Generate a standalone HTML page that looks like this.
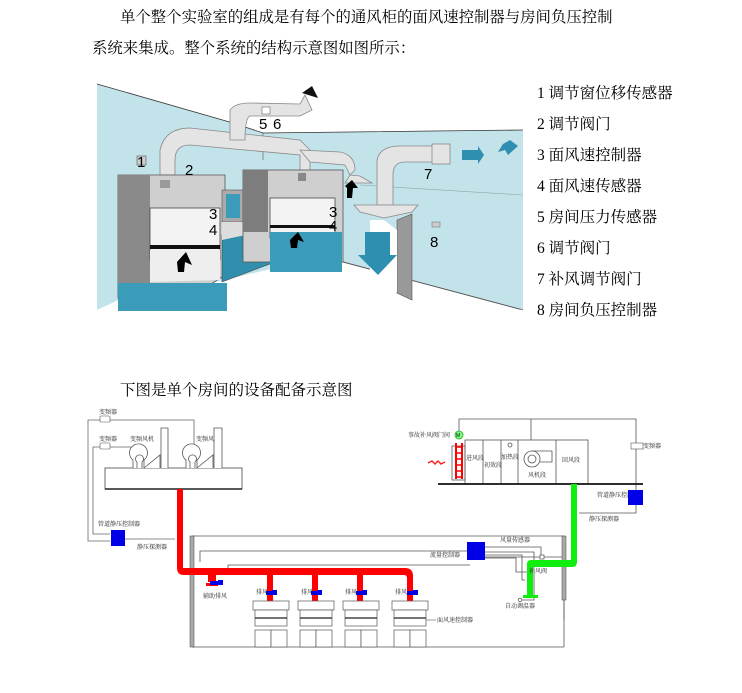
<!DOCTYPE html>
<html><head><meta charset="utf-8"><style>
html,body{margin:0;padding:0;background:#fff;width:742px;height:693px;overflow:hidden}
svg{display:block}
.t{font-family:"Liberation Serif","Noto Serif CJK SC",serif;fill:#000}
.s{font-family:"Liberation Serif","Noto Serif CJK SC",serif;fill:#222;font-size:6px}
.n{font-family:"Liberation Sans",sans-serif;font-size:15px;fill:#000}
</style></head><body>
<svg width="742" height="693" viewBox="0 0 742 693" xmlns="http://www.w3.org/2000/svg">
<text class="t" x="120" y="22" font-size="15.4">单个整个实验室的组成是有每个的通风柜的面风速控制器与房间负压控制</text>
<text class="t" x="92" y="53" font-size="15.4">系统来集成。整个系统的结构示意图如图所示：</text>

<polygon points="97,84 233,123 263,133 523,130 523,310 343,262 330,255 97,310" fill="#c3e3ea"/>
<polyline points="97,84 233,123 263,133 523,130" fill="none" stroke="#333" stroke-width="0.8"/>
<line x1="263" y1="133" x2="263" y2="160" stroke="#555" stroke-width="0.6"/>
<line x1="343" y1="262" x2="523" y2="310" stroke="#555" stroke-width="1"/>
<line x1="360" y1="185" x2="523" y2="195" stroke="#8aa" stroke-width="0.6"/>
<polygon points="97,310 140,290 330,280 400,295 523,310 523,312 97,312" fill="#fff"/>
<g fill="#e4e4e4" stroke="#888" stroke-width="0.8">
<path d="M160,175 L160,150 Q165,128 190,128 L300,140 L310,150 L310,175 L300,175 L300,155 L190,145 Q175,145 175,160 L175,175 Z"/>
<path d="M230,140 L230,110 Q235,103 250,103 L300,104 L305,95 L312,110 L300,116 L250,116 Q245,118 245,140 Z"/>
<path d="M300,150 L340,152 Q355,155 355,170 L350,175 L345,165 L310,162 Z"/>
<path d="M377,205 L377,160 Q380,146 400,146 L440,146 L440,162 L405,162 Q393,162 393,175 L393,205 Z"/>
<rect x="432" y="144" width="18" height="20"/>
<polygon points="350,175 360,176 372,183 345,183"/>
<polygon points="354,205 418,205 412,212 384,218 360,212"/>
</g>
<polygon points="462,150 478,150 478,146 484,155 478,164 478,160 462,160" fill="#2e8fb0"/>
<polygon points="510,140 518,146 508,155 505,150 498,152 503,144" fill="#2e8fb0"/>
<polygon points="302,93 312,86 318,98" fill="#111"/>
<rect x="262" y="107" width="8" height="7" fill="#fff" stroke="#666" stroke-width="0.6"/>
<polygon points="118,175 225,175 225,275 205,288 155,288 118,298" fill="#cfcfcf" stroke="#555" stroke-width="0.8"/>
<rect x="118" y="175" width="32" height="135" fill="#8a8a8a"/>
<rect x="150" y="208" width="70" height="52" fill="#f3f3f3" stroke="#444" stroke-width="0.8"/>
<rect x="150" y="245" width="70" height="4" fill="#111"/>
<polygon points="150,250 220,250 220,280 150,282" fill="#eee"/>
<polygon points="177,262 186,252 192,265 185,262 184,272 178,272" fill="#000"/>
<rect x="147" y="283" width="80" height="28" fill="#3a9cb8"/>
<rect x="118" y="283" width="30" height="28" fill="#3a9cb8"/>
<rect x="160" y="180" width="10" height="8" fill="#999"/>
<rect x="137" y="156" width="9" height="9" fill="#ccc" stroke="#555" stroke-width="0.6"/>
<rect x="222" y="190" width="38" height="32" fill="#aaa" stroke="#555" stroke-width="0.6"/>
<rect x="226" y="194" width="14" height="24" fill="#3a9cb8"/>
<rect x="243" y="194" width="14" height="24" fill="#3a9cb8"/>
<polygon points="222,235 260,228 275,228 275,262 222,282" fill="#2f8fac" stroke="#444" stroke-width="0.6"/>
<polygon points="222,222 260,222 260,232 222,240" fill="#ddd"/>
<rect x="243" y="170" width="100" height="92" fill="#cfcfcf" stroke="#555" stroke-width="0.8"/>
<rect x="243" y="170" width="25" height="62" fill="#7d7d7d"/>
<rect x="270" y="198" width="65" height="40" fill="#f3f3f3" stroke="#444" stroke-width="0.8"/>
<rect x="270" y="225" width="65" height="3" fill="#111"/>
<rect x="270" y="232" width="72" height="40" fill="#3a9cb8"/>
<polygon points="290,240 298,232 304,242 298,240 297,248 291,248" fill="#000"/>
<polygon points="345,186 352,180 358,188 353,188 352,198 347,198 347,188" fill="#000"/>
<rect x="298" y="173" width="8" height="8" fill="#888"/>
<polygon points="397,220 412,214 412,300 397,293" fill="#999" stroke="#555" stroke-width="0.6"/>
<polygon points="370,220 384,220 397,230 397,292 370,283" fill="#fff"/>
<polygon points="365,232 390,232 390,255 397,255 378,275 358,255 365,255" fill="#2e8fb0"/>
<rect x="432" y="222" width="8" height="5" fill="#ccc" stroke="#666" stroke-width="0.5"/>
<g class="n" font-size="14">
<text x="137" y="167">1</text><text x="185" y="175">2</text>
<text x="209" y="219">3</text><text x="209" y="235">4</text>
<text x="259" y="129">5</text><text x="273" y="129">6</text>
<text x="329" y="217">3</text><text x="329" y="231">4</text>
<text x="424" y="179">7</text><text x="430" y="247">8</text>
</g>
<g class="t" font-size="15.5">
<text x="537" y="98">1 调节窗位移传感器</text>
<text x="537" y="129">2 调节阀门</text>
<text x="537" y="160">3 面风速控制器</text>
<text x="537" y="191">4 面风速传感器</text>
<text x="537" y="222">5 房间压力传感器</text>
<text x="537" y="253">6 调节阀门</text>
<text x="537" y="284">7 补风调节阀门</text>
<text x="537" y="315">8 房间负压控制器</text>
</g>
<text class="t" x="120" y="395" font-size="15.5">下图是单个房间的设备配备示意图</text>

<g fill="none" stroke="#666" stroke-width="0.8">
<polyline points="108,420 88,420 88,541 110,541"/>
<polyline points="110,420 194,420 194,455"/>
<polyline points="108,447 93,447 93,534 110,534"/>
<polyline points="110,447 139,447 139,450"/>
<line x1="125" y1="539" x2="175" y2="539"/>
<rect x="105" y="468" width="137" height="21" stroke="#444"/>
</g>
<line x1="105" y1="489" x2="242" y2="489" stroke="#222" stroke-width="1.5"/>
<rect x="100" y="416" width="10" height="6" fill="#fff" stroke="#555" stroke-width="0.6" rx="1"/>
<rect x="100" y="443" width="10" height="6" fill="#fff" stroke="#555" stroke-width="0.6" rx="1"/>
<text class="s" x="99" y="414">变频器</text><text class="s" x="99" y="441">变频器</text>
<text class="s" x="130" y="441">变频风机</text><text class="s" x="196" y="441">变频风机</text>
<text class="s" x="98" y="526">管道静压控制器</text><text class="s" x="137" y="549">静压探测器</text>
<g fill="#fff" stroke="#555" stroke-width="0.8">
<path d="M133,468 L133,460 A9,9 0 1 1 144,460 L144,468"/>
<path d="M137,468 L137,462 A4,4 0 1 1 142,462 L142,468"/>
<polyline points="144,468 160,455 160,468"/>
<polyline points="161,468 161,428 168,428 168,468"/>
<path d="M186,468 L186,460 A9,9 0 1 1 197,460 L197,468"/>
<path d="M190,468 L190,462 A4,4 0 1 1 195,462 L195,468"/>
<polyline points="197,468 213,455 213,468"/>
<polyline points="214,468 214,428 222,428 222,468"/>
</g>
<rect x="111" y="530" width="14" height="16" fill="#0000e8"/>
<g fill="none" stroke="#555" stroke-width="0.8">
<polyline points="192,536 564,536"/>
<polyline points="200,562 200,551 470,551"/>
<line x1="192" y1="647" x2="564" y2="647"/>
<line x1="564" y1="600" x2="564" y2="647"/>
<polyline points="228,575 228,565 470,565"/>
<polyline points="485,557 566,557"/>
</g>
<rect x="190" y="536" width="4" height="111" fill="#aaa" stroke="#444" stroke-width="0.5"/>
<rect x="562" y="536" width="4" height="64" fill="#aaa" stroke="#444" stroke-width="0.5"/>
<g fill="#ff0000">
<path d="M177,489 h6 v79 h222 q8,0 8,8 v27 h-6 v-25 q0,-3 -3,-3 h-220 q-7,0 -7,-7 z"/>
<rect x="208" y="570" width="8" height="12"/><rect x="206" y="583" width="12" height="3"/>
<rect x="267" y="570" width="6" height="31"/>
<rect x="312" y="570" width="6" height="31"/>
<rect x="357" y="570" width="6" height="31"/>
</g>
<g fill="#0000e8">
<rect x="210" y="581" width="8" height="4"/><rect x="218" y="580" width="5" height="5"/>
<rect x="266" y="591" width="6" height="4"/><rect x="272" y="590" width="5" height="5"/>
<rect x="311" y="591" width="6" height="4"/><rect x="317" y="590" width="5" height="5"/>
<rect x="356" y="591" width="6" height="4"/><rect x="362" y="590" width="5" height="5"/>
<rect x="407" y="591" width="6" height="4"/><rect x="413" y="590" width="5" height="5"/>
</g>
<text class="s" x="203" y="598">辅助排风</text>
<text class="s" x="256" y="594">排风</text><text class="s" x="301" y="594">排风</text><text class="s" x="345" y="594">排风</text><text class="s" x="395" y="594">排风</text>
<g fill="#fff" stroke="#555" stroke-width="0.7">
<rect x="253" y="601" width="36" height="9"/><rect x="255" y="610" width="32" height="16"/><rect x="255" y="630" width="16" height="17"/><rect x="271" y="630" width="16" height="17"/>
<rect x="298" y="601" width="36" height="9"/><rect x="300" y="610" width="32" height="16"/><rect x="300" y="630" width="16" height="17"/><rect x="316" y="630" width="16" height="17"/>
<rect x="343" y="601" width="36" height="9"/><rect x="345" y="610" width="32" height="16"/><rect x="345" y="630" width="16" height="17"/><rect x="361" y="630" width="16" height="17"/>
<rect x="392" y="601" width="36" height="9"/><rect x="394" y="610" width="32" height="16"/><rect x="394" y="630" width="16" height="17"/><rect x="410" y="630" width="16" height="17"/>
</g>
<g stroke="#222" stroke-width="1.2"><line x1="255" y1="618" x2="287" y2="618"/><line x1="300" y1="618" x2="332" y2="618"/><line x1="345" y1="618" x2="377" y2="618"/><line x1="394" y1="618" x2="426" y2="618"/></g>
<text class="s" x="437" y="622">面风速控制器</text>
<line x1="426" y1="620" x2="436" y2="620" stroke="#555" stroke-width="0.6"/>
<g fill="none" stroke="#555" stroke-width="0.8">
<polyline points="459,432 459,419 636,419 636,490"/>
<line x1="531" y1="419" x2="531" y2="440"/>
<rect x="465" y="440" width="123" height="44"/>
<line x1="483" y1="440" x2="483" y2="484"/><line x1="501" y1="440" x2="501" y2="484"/><line x1="518" y1="440" x2="518" y2="484"/><line x1="556" y1="440" x2="556" y2="484"/>
<circle cx="510" cy="445" r="2"/>
<circle cx="532" cy="459" r="8"/><circle cx="532" cy="459" r="4"/>
<polyline points="532,451 552,451 552,462 540,462"/>
<rect x="452" y="446" width="13" height="34"/>
<polyline points="636,505 636,513 579,513"/>
<polyline points="485,547 541,547 541,556"/>
<polyline points="485,552 534,552 534,600 518,600"/>
<polyline points="485,555 522,555 522,580 525,580"/>
<polyline points="485,558 516,558 516,572 527,572"/>
<line x1="564" y1="600" x2="564" y2="620"/>
</g>
<line x1="438" y1="484" x2="643" y2="484" stroke="#111" stroke-width="1.8"/>
<rect x="455" y="443" width="2" height="36" fill="#ff0000"/><rect x="461" y="443" width="2" height="36" fill="#ff0000"/>
<g stroke="#ff0000" stroke-width="1.5"><line x1="455" y1="447" x2="463" y2="447"/><line x1="455" y1="453" x2="463" y2="453"/><line x1="455" y1="459" x2="463" y2="459"/><line x1="455" y1="465" x2="463" y2="465"/><line x1="455" y1="471" x2="463" y2="471"/><line x1="455" y1="477" x2="463" y2="477"/></g>
<path d="M428,463 l4,-2 l3,3 l3,-3 l3,3 l4,-2" fill="none" stroke="#ff2020" stroke-width="1.5"/>
<circle cx="459" cy="435" r="4" fill="#80ff80" stroke="#2a2" stroke-width="0.8"/>
<text x="456" y="437" font-size="5" font-family="Liberation Sans">M</text>
<text class="s" x="408" y="437">事故补风阀门间</text>
<text class="s" x="466" y="460">进风段</text><text class="s" x="484" y="467">初效段</text><text class="s" x="501" y="459">加热段</text>
<text class="s" x="528" y="477">风机段</text><text class="s" x="562" y="462">回风段</text>
<rect x="631" y="443" width="12" height="6" fill="#fff" stroke="#555" stroke-width="0.6"/>
<text class="s" x="643" y="448">变频器</text>
<text class="s" x="597" y="497">管道静压控制器</text>
<text class="s" x="589" y="521">静压探测器</text>
<rect x="628" y="490" width="15" height="15" fill="#0000e8"/>
<path d="M571,484 h6 v78 q0,5 -5,5 h-39 v28 h5 v3 h-15 v-3 h4 v-31 q0,-4 4,-4 h40 z" fill="#10ee10"/>
<rect x="467" y="542" width="18" height="18" fill="#0000e8"/>
<rect x="540" y="555" width="4" height="4" fill="#fff" stroke="#333" stroke-width="0.6"/>
<text class="s" x="500" y="542">风量传感器</text>
<text class="s" x="430" y="557">流量控制器</text>
<text class="s" x="529" y="573">补风阀</text>
<text class="s" x="505" y="608">自动调温器</text>
<circle cx="520" cy="600" r="1.8" fill="#fff" stroke="#333" stroke-width="0.6"/>
</svg>
</body></html>
